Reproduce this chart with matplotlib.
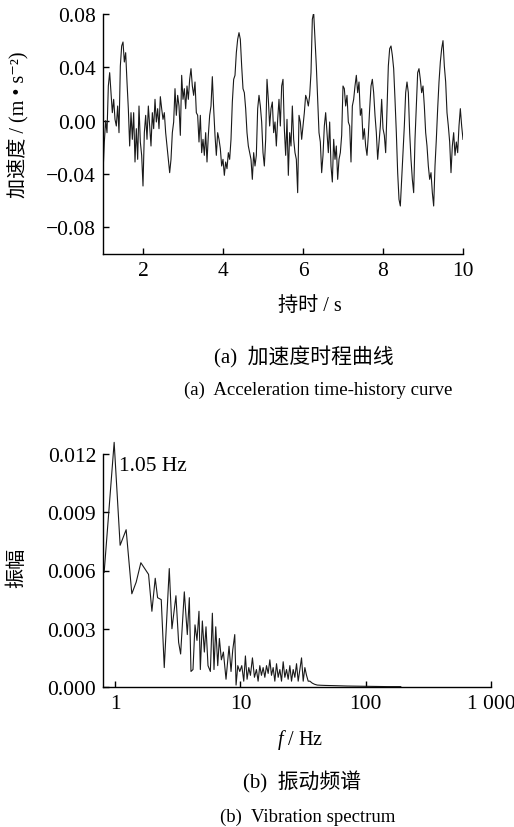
import numpy as np
import matplotlib
matplotlib.use('Agg')
import matplotlib.pyplot as plt
from matplotlib.ticker import FixedLocator, NullLocator

plt.rcParams['font.family'] = ['Liberation Serif', 'Noto Sans CJK SC', 'DejaVu Serif']
plt.rcParams['mathtext.fontset'] = 'custom'
plt.rcParams['mathtext.rm'] = 'Liberation Serif'
plt.rcParams['mathtext.it'] = 'Liberation Serif:italic'

# (a) acceleration record, sampled every 1/30 s from 1 s to 10 s (m/s^2)
t_start, t_step = 1.0, 1.0 / 30
acc = [
    -0.039, -0.016, 0.000, -0.009, 0.026, 0.036, 0.021, 0.006, 0.016, 0.001,
    -0.004, 0.011, -0.009, 0.041, 0.056, 0.059, 0.044, 0.051, 0.029, 0.009,
    -0.019, 0.006, -0.014, 0.006, -0.031, -0.006, -0.029, 0.011, -0.016, -0.026,
    -0.049, -0.009, 0.004, -0.014, 0.011, -0.004, -0.019, 0.006, -0.006, 0.016,
    -0.001, 0.009, -0.006, 0.018, 0.009, 0.001, 0.006, -0.009, -0.019, -0.029,
    -0.039, -0.029, -0.009, -0.001, 0.024, 0.004, 0.019, 0.011, -0.011, 0.034,
    0.016, 0.024, 0.009, 0.026, 0.016, 0.031, 0.039, 0.026, 0.019, 0.029,
    0.006, 0.004, -0.016, 0.004, -0.024, -0.014, -0.026, -0.009, -0.031, -0.011,
    0.004, 0.011, 0.033, 0.009, -0.011, -0.026, -0.009, -0.014, -0.021, -0.034,
    -0.029, -0.041, -0.031, -0.036, -0.024, -0.029, -0.014, 0.014, 0.031, 0.034,
    0.051, 0.061, 0.066, 0.061, 0.041, 0.024, 0.021, 0.009, -0.009, -0.019,
    -0.024, -0.029, -0.044, -0.024, -0.034, -0.026, 0.009, 0.019, 0.011, -0.001,
    -0.024, -0.034, -0.014, 0.031, 0.016, -0.004, 0.009, 0.014, -0.009, -0.001,
    -0.019, 0.001, 0.016, -0.004, 0.026, 0.031, -0.006, -0.026, 0.001, -0.041,
    -0.009, -0.019, 0.011, -0.014, -0.024, -0.029, -0.054, 0.004, -0.001, -0.014,
    -0.004, 0.006, 0.019, 0.016, 0.011, 0.019, 0.036, 0.076, 0.081, 0.061,
    0.041, 0.016, -0.009, -0.016, -0.039, -0.026, -0.004, 0.006, -0.009, -0.024,
    -0.001, -0.034, -0.046, -0.014, -0.029, -0.019, -0.044, -0.029, -0.024, -0.011,
    0.026, 0.024, 0.011, 0.019, -0.001, -0.004, -0.031, 0.011, 0.016, 0.026,
    0.034, 0.021, 0.029, 0.004, 0.009, -0.014, -0.006, -0.019, -0.026, -0.011,
    0.009, 0.026, 0.031, 0.021, 0.004, -0.009, -0.029, -0.016, -0.004, 0.016,
    -0.006, -0.011, -0.024, 0.009, 0.041, 0.054, 0.056, 0.049, 0.039, 0.016,
    -0.009, -0.039, -0.059, -0.064, -0.044, -0.024, -0.004, 0.021, 0.029, 0.021,
    -0.009, -0.029, -0.044, -0.054, -0.014, 0.011, 0.036, 0.039, 0.031, 0.021,
    0.026, 0.011, -0.009, -0.019, -0.034, -0.044, -0.039, -0.054, -0.064, -0.034,
    -0.014, 0.009, 0.029, 0.044, 0.054, 0.060, 0.041, 0.029, 0.006, -0.004,
    -0.016, -0.039, -0.019, -0.009, -0.026, -0.016, -0.024, -0.004, 0.009, -0.004,
    -0.014,
]
time = t_start + t_step * np.arange(len(acc))

# (b) amplitude spectrum
freq = [
    0.817, 0.982, 1.096, 1.224, 1.359, 1.472, 1.604, 1.848, 1.965, 2.089,
    2.182, 2.333, 2.466, 2.704, 2.840, 3.057, 3.211, 3.332, 3.565, 3.767,
    3.909, 4.030, 4.182, 4.339, 4.500, 4.669, 4.786, 4.966, 5.152, 5.311,
    5.511, 5.754, 5.970, 6.152, 6.353, 6.590, 6.792, 7.047, 7.311, 7.674,
    8.111, 8.414, 8.680, 9.010, 9.230, 9.527, 9.882, 10.25, 10.63, 10.96,
    11.30, 11.66, 12.02, 12.47, 12.94, 13.42, 13.84, 14.28, 14.72, 15.18,
    15.66, 16.15, 16.65, 17.17, 17.70, 18.25, 18.82, 19.41, 20.01, 20.64,
    21.28, 21.94, 22.62, 23.33, 24.05, 24.80, 25.57, 26.37, 27.19, 28.04,
    28.91, 29.81, 30.74, 31.70, 32.68, 33.70, 34.75, 35.83, 37.43, 39.08,
    41.05, 43.62, 47.86, 55.82, 71.32, 91.20, 116.6, 149.0, 190.5,
]
amp = [
    0.0059, 0.0126, 0.0073, 0.0081, 0.0048, 0.0054, 0.0064, 0.0058, 0.0039, 0.0056,
    0.0046, 0.0045, 0.0010, 0.0061, 0.0030, 0.0047, 0.0023, 0.0017, 0.0049, 0.0027,
    0.0046, 0.0008, 0.0009, 0.0032, 0.0024, 0.0039, 0.0009, 0.0034, 0.0018, 0.0031,
    0.0011, 0.0008, 0.0038, 0.0009, 0.0031, 0.0011, 0.0025, 0.0014, 0.0018, 0.0004,
    0.0021, 0.0008, 0.0019, 0.0027, 0.0001, 0.0011, 0.0008, 0.0011, 0.0003, 0.0016,
    0.0004, 0.0010, 0.0006, 0.0015, 0.0005, 0.0009, 0.0003, 0.0011, 0.0006, 0.0010,
    0.0005, 0.0011, 0.0007, 0.0014, 0.0006, 0.0010, 0.0003, 0.0012, 0.0005, 0.0009,
    0.0003, 0.0013, 0.0005, 0.0009, 0.0004, 0.0011, 0.0003, 0.0009, 0.0005, 0.0012,
    0.0003, 0.0009, 0.0015, 0.0003, 0.0010, 0.0006, 0.0003, 0.0003, 0.0002, 0.00014,
    0.0001, 0.00009, 0.00008, 0.00007, 0.00005, 0.00004, 0.00003, 0.00002, 0.00002,
]

acc_ticks = [-0.08, -0.04, 0.0, 0.04, 0.08]
time_ticks = [2, 4, 6, 8, 10]
amp_ticks = [0.0, 0.003, 0.006, 0.009, 0.012]
freq_ticks = [1, 10, 100, 1000]
freq_labels = ['1', '10', '100', '1 000']

W, H = 514, 828
fig = plt.figure(figsize=(W / 100, H / 100), dpi=100)
fs_tick = 15.5
fs_lab = 14.5
fs_cap = 13.5
fs_cap_cn = 15


def px(x, y):
    return x / W, 1 - y / H


def style(ax):
    for s in ['top', 'right']:
        ax.spines[s].set_visible(False)
    for s in ['left', 'bottom']:
        ax.spines[s].set_linewidth(1.0)
    ax.tick_params(direction='in', length=4.5, width=1.0, labelsize=fs_tick, pad=5)


# top panel
ax1 = fig.add_axes([103 / W, 1 - 255 / H, 360 / W, 240 / H])
ax1.plot(time, acc, color='#1a1a1a', lw=0.8)
ax1.set_xlim(1, 10)
ax1.set_ylim(-0.1, 0.08)
ax1.set_xticks(time_ticks)
ax1.set_yticks(acc_ticks)
ax1.set_yticklabels([f'{v:.2f}'.replace('-', '\u2212') for v in acc_ticks])
style(ax1)

fig.text(*px(18, 125), '加速度 / (m • s⁻²)', rotation=90, ha='center', va='center', fontsize=fs_lab)
fig.text(*px(310, 307), '持时 / s', ha='center', va='center', fontsize=fs_lab)
fig.text(*px(304, 357), '(a)  加速度时程曲线', ha='center', va='center', fontsize=fs_cap_cn)
fig.text(*px(318, 390), '(a)  Acceleration time-history curve', ha='center', va='center', fontsize=fs_cap)

# bottom panel
ax2 = fig.add_axes([103 / W, 1 - 688 / H, 388 / W, 233 / H])
ax2.plot(freq, amp, color='#1a1a1a', lw=0.8, clip_on=False)
ax2.set_xscale('log')
ax2.set_xlim(0.8, 1000)
ax2.set_ylim(0, 0.012)
ax2.xaxis.set_major_locator(FixedLocator(freq_ticks))
ax2.xaxis.set_minor_locator(NullLocator())
ax2.set_xticklabels(freq_labels)
ax2.set_yticks(amp_ticks)
ax2.set_yticklabels([f'{v:.3f}' for v in amp_ticks])
style(ax2)
ax2.text(1.08, 0.0114, '1.05 Hz', fontsize=fs_tick, ha='left', va='center')

fig.text(*px(18, 568), '振幅', rotation=90, ha='center', va='center', fontsize=fs_lab)
fig.text(*px(300, 740), r'$f$ / Hz', ha='center', va='center', fontsize=fs_lab)
fig.text(*px(302, 782), '(b)  振动频谱', ha='center', va='center', fontsize=fs_cap_cn)
fig.text(*px(308, 817), '(b)  Vibration spectrum', ha='center', va='center', fontsize=fs_cap)

fig.savefig('out.png', dpi=100)
